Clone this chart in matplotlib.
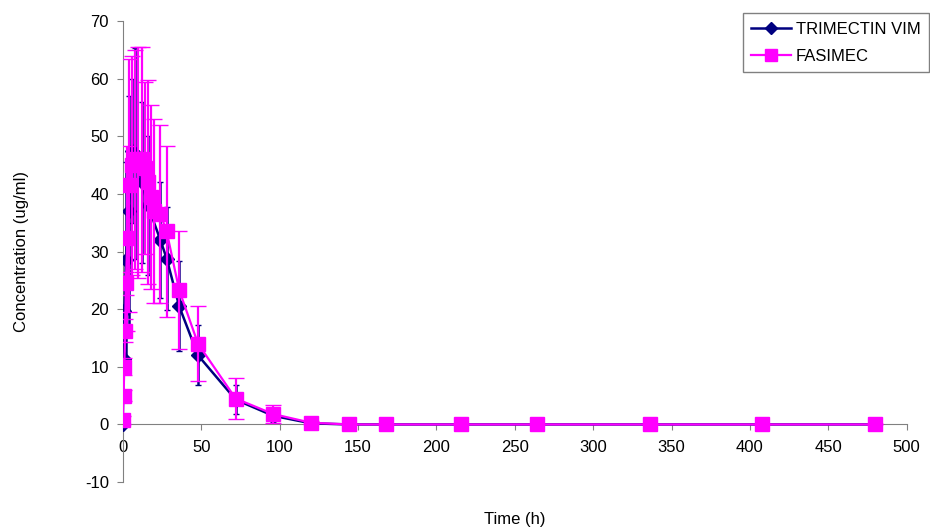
import numpy as np
import matplotlib.pyplot as plt
from matplotlib.lines import Line2D

plt.rcParams['font.family'] = ['Liberation Sans', 'DejaVu Sans']
plt.rcParams['axes.unicode_minus'] = False

# TRIMECTIN VIM
t_tri = [0, 0.5, 1, 2, 4, 6, 8, 12, 16, 24, 28, 36, 48, 72, 96, 120,
         144, 168, 216, 264, 336, 408, 480]
c_tri = [0, 11.3, 19.7, 28.5, 37, 47.5, 47, 42, 38, 32, 28.8, 20.5, 12,
         4.3, 1.5, 0.2, 0, 0, 0, 0, 0, 0, 0]
sd_tri = [0, 0.5, 1, 17, 20, 12.5, 18.3, 14, 12, 10, 9, 7.8, 5.2,
          2.5, 1.0, 0.2, 0, 0, 0, 0, 0, 0, 0]

# FASIMEC
t_fas = [0, 0.5, 1, 1.5, 2, 3, 4, 6, 8, 10, 12, 14, 16, 18, 20, 24, 28,
         36, 48, 72, 96, 120, 144, 168, 216, 264, 336, 408, 480]
c_fas = [0.8, 5, 10, 16.3, 24.5, 32.3, 41.5, 45, 46, 45.5, 46, 44.5, 42,
         39.5, 37, 36.5, 33.5, 23.3, 14, 4.5, 1.8, 0.3, 0, 0, 0, 0, 0, 0, 0]
sd_fas = [0.7, 1, 1.5, 2, 2, 16, 22, 19, 19, 20, 19.5, 15, 17.7, 16, 16,
          15.5, 14.8, 10.2, 6.5, 3.5, 1.5, 0.3, 0, 0, 0, 0, 0, 0, 0]

navy = '#000080'
pink = '#FF00FF'

fig = plt.figure(figsize=(9.3, 5.28), dpi=100)
ax = fig.add_axes([0.132, 0.087, 0.843, 0.873])

ax.errorbar(t_tri, c_tri, yerr=sd_tri, color=navy, marker='D',
            markersize=7, linewidth=1.8, elinewidth=1.8, capsize=2,
            zorder=3)
ax.errorbar(t_fas, c_fas, yerr=sd_fas, color=pink, marker='s',
            markersize=10, linewidth=1.6, elinewidth=1.6, capsize=6,
            zorder=4)

ax.set_xlim(0, 500)
ax.set_ylim(-10, 70)
ax.set_xticks(np.arange(0, 501, 50))
ax.set_yticks(np.arange(-10, 71, 10))

ax.spines['top'].set_visible(False)
ax.spines['right'].set_visible(False)
ax.spines['bottom'].set_position(('data', 0))
ax.spines['bottom'].set_color('#808080')
ax.spines['left'].set_color('#808080')
ax.tick_params(axis='both', colors='#808080', labelcolor='black',
               labelsize=12, direction='out', length=4)
ax.tick_params(axis='x', pad=7)
ax.tick_params(axis='y', pad=6)

ax.set_xlabel('Time (h)', fontsize=12)
ax.xaxis.set_label_coords(0.5, -0.066)
ax.set_ylabel('Concentration (ug/ml)', fontsize=12)
ax.yaxis.set_label_coords(-0.12, 0.5)

handles = [
    Line2D([], [], color=navy, marker='D', markersize=6, linewidth=1.8),
    Line2D([], [], color=pink, marker='s', markersize=9, linewidth=1.6),
]
leg = ax.legend(handles, ['TRIMECTIN VIM', 'FASIMEC'], loc='upper right',
                bbox_to_anchor=(0.999, 0.975), bbox_transform=fig.transFigure,
                fancybox=False, edgecolor='#808080', fontsize=12,
                framealpha=1, borderaxespad=0, handlelength=2.4,
                labelspacing=0.75, borderpad=0.5, handletextpad=0.3)
leg.get_frame().set_linewidth(1)

fig.savefig('out.png', dpi=100)
